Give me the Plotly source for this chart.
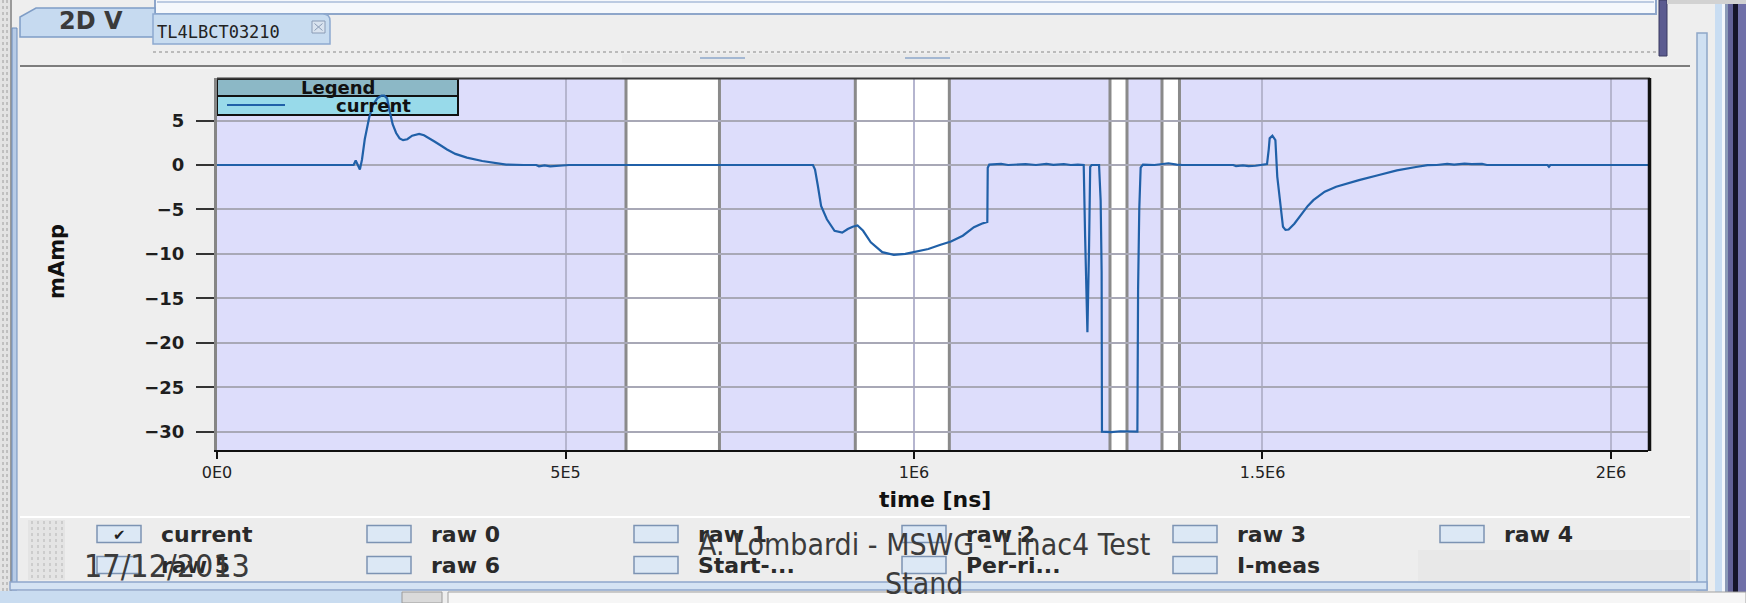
import plotly.graph_objects as go

# ---------------- measured beam current (time in ns, current in mA) ----------------
pulse1_t = [0, 1.96e5, 1.99e5, 2.02e5, 2.05e5, 2.08e5, 2.12e5, 2.185e5, 2.24e5, 2.30e5,
            2.36e5, 2.40e5, 2.44e5, 2.48e5, 2.52e5, 2.57e5, 2.62e5, 2.67e5, 2.73e5, 2.80e5,
            2.90e5, 2.97e5, 3.04e5, 3.12e5, 3.20e5, 3.30e5, 3.42e5, 3.585e5, 3.805e5, 4.02e5,
            4.15e5, 4.40e5, 4.58e5, 4.62e5, 4.70e5, 4.78e5, 4.86e5, 4.95e5, 5.05e5]
pulse1_i = [0, 0, 0.5, 0.0, -0.5, 0.6, 2.9, 5.4, 6.8, 7.5,
            7.8, 7.8, 7.5, 6.0, 4.6, 3.6, 3.0, 2.8, 2.9, 3.3,
            3.5, 3.35, 3.05, 2.65, 2.25, 1.75, 1.25, 0.83, 0.45, 0.19,
            0.05, 0.0, 0.0, -0.15, -0.05, -0.15, -0.1, -0.12, 0.0]

pulse2_t = [8.55e5, 8.58e5, 8.62e5, 8.667e5, 8.75e5, 8.86e5, 8.97e5, 9.05e5, 9.12e5, 9.19e5,
            9.27e5, 9.38e5, 9.545e5, 9.71e5, 9.875e5, 1.004e6, 1.0205e6, 1.037e6, 1.053e6, 1.07e6,
            1.086e6, 1.097e6, 1.1052e6, 1.1058e6, 1.108e6, 1.125e6, 1.135e6, 1.16e6, 1.175e6, 1.19e6,
            1.20e6, 1.215e6, 1.225e6, 1.235e6, 1.2435e6, 1.2455e6, 1.2488e6, 1.2512e6, 1.2528e6, 1.2548e6,
            1.2655e6, 1.2678e6, 1.2692e6, 1.2697e6, 1.283e6, 1.296e6, 1.309e6, 1.3205e6, 1.3215e6, 1.3232e6,
            1.3252e6, 1.3285e6, 1.345e6, 1.357e6, 1.365e6, 1.377e6, 1.385e6]
pulse2_i = [0, -0.5, -2.3, -4.6, -6.1, -7.4, -7.6, -7.2, -6.95, -6.8,
            -7.4, -8.7, -9.8, -10.1, -10.0, -9.76, -9.45, -9.0, -8.6, -7.95,
            -7.0, -6.6, -6.4, -0.3, 0.05, 0.12, 0.0, 0.1, 0.0, 0.12,
            0.02, 0.1, 0.0, 0.05, 0.0, -8.0, -18.8, -9.0, -0.2, 0.0,
            0.0, -4.0, -12.0, -30.0, -30.05, -29.95, -30.0, -30.0, -14.0, -5.0,
            -0.3, 0.05, 0.0, 0.15, 0.2, 0.05, 0.0]

pulse3_t = [1.458e6, 1.462e6, 1.472e6, 1.48e6, 1.49e6, 1.4985e6, 1.5065e6, 1.509e6, 1.5103e6, 1.5142e6,
            1.5185e6, 1.5212e6, 1.524e6, 1.5267e6, 1.5294e6, 1.533e6, 1.5375e6, 1.5457e6, 1.5566e6, 1.565e6,
            1.573e6, 1.581e6, 1.5893e6, 1.6057e6, 1.622e6, 1.6384e6, 1.6657e6, 1.6929e6, 1.7202e6, 1.7367e6,
            1.75e6, 1.765e6, 1.775e6, 1.79e6, 1.80e6, 1.815e6, 1.822e6, 1.909e6, 1.911e6, 1.913e6, 2.06e6]
pulse3_i = [0.0, -0.12, -0.05, -0.12, -0.08, 0.0, 0.1, 1.8, 3.0, 3.3,
            2.8, -1.3, -3.3, -5.1, -6.95, -7.3, -7.25, -6.6, -5.45, -4.6,
            -3.95, -3.45, -3.0, -2.45, -2.05, -1.7, -1.15, -0.6, -0.22, -0.02,
            0.0, 0.12, 0.05, 0.15, 0.1, 0.12, 0.0, 0.0, -0.2, 0.0, 0.0]

# time windows drawn without background shading
gap_start_ns = [5.868e5, 9.158e5, 1.2812e6, 1.3558e6]
gap_end_ns = [7.209e5, 1.0507e6, 1.3056e6, 1.3809e6]

x_tick_vals = [0, 5e5, 1e6, 1.5e6, 2e6]
x_tick_text = ["0E0", "5E5", "1E6", "1.5E6", "2E6"]
y_tick_vals = [5, 0, -5, -10, -15, -20, -25, -30]
y_tick_text = ["5", "0", "\u22125", "\u221210", "\u221215", "\u221220", "\u221225", "\u221230"]

channels_row1 = ["current", "raw 0", "raw 1", "raw 2", "raw 3", "raw 4"]
channels_row2 = ["raw 5", "raw 6", "Start-...", "Per-ri...", "I-meas"]

# one continuous acquisition record
time_ns = pulse1_t + pulse2_t + pulse3_t
current_mA = pulse1_i + pulse2_i + pulse3_i

# ---------------- page geometry (pixels) ----------------
W, H = 1746, 603
PL, PR, PT, PB = 217, 1648, 78, 450
X_RANGE = [0, 2.0531e6]
Y_RANGE = [-32.06, 9.79]


def px(x):
    return (x - PL) / (PR - PL)


def py(y):
    return (PB - y) / (PB - PT)


shapes = []
annots = []


def rect(x0, y0, x1, y1, fill, line=None, lw=1.0, layer="above"):
    shapes.append(dict(type="rect", xref="paper", yref="paper",
                       x0=px(x0), x1=px(x1), y0=py(y1), y1=py(y0),
                       fillcolor=fill, layer=layer,
                       line=dict(color=line if line else fill, width=lw if line else 0)))


def seg(x0, y0, x1, y1, color, w=1.0, dash="solid", layer="above"):
    shapes.append(dict(type="line", xref="paper", yref="paper",
                       x0=px(x0), x1=px(x1), y0=py(y0), y1=py(y1), layer=layer,
                       line=dict(color=color, width=w, dash=dash)))


def label(x, y, s, size, color="#222222", weight=400, family="DejaVu Sans",
          xanchor="center", angle=0):
    annots.append(dict(x=px(x), y=py(y), xref="paper", yref="paper", text=s,
                       showarrow=False, xanchor=xanchor, yanchor="middle",
                       textangle=angle,
                       font=dict(family=family, size=size, color=color, weight=weight)))


# ---------------- window chrome ----------------
# left edge
rect(0, 0, 10, 603, "#E3E3E3")
for xd in (3, 7):
    seg(xd, 0, xd, 603, "#9C9C9C", 1, "dot")
rect(10, 0, 12, 603, "#9A9A9A")
rect(12, 28, 17, 590, "#B7CBE6", "#6F8EBB", 1)

# frame of the window above
rect(155, -2, 1656, 14, "#F5F8FC", "#8EA6CA", 2)
seg(157, 2, 1654, 2, "#A9BDDA", 1.5)

# tabs
shapes.append(dict(type="path", xref="paper", yref="paper", layer="above",
                   path="M {},{} L {},{} L {},{} L {},{} L {},{} Z".format(
                       px(20), py(37), px(20), py(17), px(36), py(8), px(155), py(8), px(155), py(37)),
                   fillcolor="#C6DAF0", line=dict(color="#7F9DC6", width=1.5)))
label(57, 21, "2D V", 24, "#3A3A3A", 700, xanchor="left")
shapes.append(dict(type="path", xref="paper", yref="paper", layer="above",
                   path="M {},{} L {},{} L {},{} Q {},{} {},{} L {},{} Z".format(
                       px(153), py(44), px(153), py(14), px(323), py(14),
                       px(330), py(14), px(330), py(21), px(330), py(44)),
                   fillcolor="#C8DCF0", line=dict(color="#8DA9CF", width=1.5)))
label(155, 32, "TL4LBCT03210", 17, "#222222", 400, "DejaVu Sans Mono", xanchor="left")
rect(312, 21, 325, 33, "#D9E3EF", "#8A9BB5", 1)
seg(314.5, 23.5, 322.5, 30.5, "#8A9BB5", 1)
seg(314.5, 30.5, 322.5, 23.5, "#8A9BB5", 1)

# toolbar strip and separator
seg(153, 52, 1656, 52, "#ABABAB", 1.5, "dot")
rect(622, 54, 1090, 63, "#E9E9E9")
seg(700, 58, 745, 58, "#A3B7D2", 2)
seg(905, 58, 950, 58, "#A3B7D2", 2)
seg(20, 66, 1690, 66, "#7D7D7D", 2)
seg(20, 68, 1690, 68, "#FAFAFA", 1)

# right edge
rect(1659, 0, 1667, 56, "#5B5B90", "#3A3A60", 1)
rect(1667, 0, 1746, 4, "#D2D2D2")
rect(1697, 33, 1707, 590, "#CFE0F2", "#8FA7C8", 1.5)
rect(1715, 4, 1722, 603, "#C9DDF2")
rect(1722, 4, 1725, 603, "#F2F6FB")
rect(1725, 4, 1728, 603, "#8A9AB8")
rect(1728, 4, 1733, 603, "#626298")
rect(1733, 4, 1738, 603, "#15152A")
rect(1738, 4, 1746, 603, "#7070A8")

# channel selector panel
rect(20, 517, 1690, 581, "#EDEDED")
seg(20, 517, 1690, 517, "#FFFFFF", 2)
rect(1418, 550, 1690, 581, "#E8E8E8")
rect(28, 520, 65, 580, "#E4E4E4")
for xd in (32, 38, 44, 50, 56, 62):
    seg(xd, 521, xd, 579, "#B4B4B4", 1, "dot")

# bottom frame
rect(10, 582, 1707, 590, "#D5E3F3", "#8EA7CB", 1.5)
rect(0, 591, 402, 603, "#C9DCF0")
rect(402, 592, 442, 603, "#DADADA", "#9A9A9A", 1)
rect(448, 592, 1746, 605, "#F6F6F6", "#A0A0A0", 1)

# checkboxes with channel names
col_left = [97, 367, 634, 902, 1173, 1440]
row_mid = [534, 565]
for row, names in zip(row_mid, [channels_row1, channels_row2]):
    for xl, name in zip(col_left, names):
        rect(xl, row - 8.5, xl + 44, row + 8.5, "#DCE8F5", "#7C93B3", 1.5)
        label(xl + 62, row, name, 22, "#2A2A2A", 700, xanchor="left")
label(col_left[0] + 22, row_mid[0] + 1, "\u2714", 15, "#202020")

# ---------------- plot furniture ----------------
# legend box
rect(217, 79, 458, 96, "#8CB8C6", "#111111", 2, layer="between")
rect(217, 96, 458, 115, "#98DAEA", "#111111", 2, layer="between")
seg(227, 105, 285, 105, "#2060A8", 2, layer="between")
label(338, 87.5, "Legend", 18, "#111111", 700)
label(373, 105.5, "current", 18, "#111111", 700)

# unshaded time windows
for xs, xe in zip(gap_start_ns, gap_end_ns):
    shapes.append(dict(type="rect", xref="x", yref="paper", x0=xs, x1=xe, y0=0, y1=1,
                       fillcolor="#FFFFFF", line=dict(width=0), layer="below"))
    for xv in (xs, xe):
        shapes.append(dict(type="line", xref="x", yref="paper", x0=xv, x1=xv, y0=0, y1=1,
                           line=dict(color="#8A8A8A", width=3), layer="between"))

# frame around the plot area
seg(217, 78.5, 1650, 78.5, "#3A3A3A", 2)
seg(1649.5, 78, 1649.5, 451, "#111111", 3.5)

# axis titles
label(57, 262, "mAmp", 21, "#111111", 700, angle=-90)
label(935, 500, "time [ns]", 22, "#111111", 700)

# slide footer text
label(82, 566, "17/12/2013", 32, "#3B3B3B", 400,
      "DejaVu Sans Condensed, sans-serif", xanchor="left")
label(924, 564, "A. Lombardi - MSWG - Linac4 Test<br>Stand", 30, "#3B3B3B", 400,
      "DejaVu Sans Condensed, sans-serif")

# ---------------- figure ----------------
fig = go.Figure()
fig.add_trace(go.Scatter(x=time_ns, y=current_mA, mode="lines", name="current",
                         showlegend=False, line=dict(color="#2060A8", width=2.2),
                         hoverinfo="skip"))

fig.update_layout(
    width=W, height=H,
    margin=dict(l=PL, r=W - PR, t=PT, b=H - PB, pad=0),
    paper_bgcolor="#EEEEEE",
    plot_bgcolor="#DDDDFB",
    showlegend=False,
    shapes=shapes,
    annotations=annots,
    xaxis=dict(range=X_RANGE, tickvals=x_tick_vals, ticktext=x_tick_text,
               showgrid=True, gridcolor="#B5B5CF", gridwidth=2, zeroline=False,
               showline=True, linecolor="#111111", linewidth=2,
               ticks="outside", ticklen=7, tickwidth=2, tickcolor="#111111",
               tickfont=dict(family="DejaVu Sans", size=16, color="#222222")),
    yaxis=dict(range=Y_RANGE, tickvals=y_tick_vals, ticktext=y_tick_text,
               showgrid=True, gridcolor="#A8A8B6", gridwidth=1.5, zeroline=False,
               showline=True, linecolor="#858585", linewidth=3,
               ticks="outside", ticklen=18, tickwidth=1.5, tickcolor="#333333",
               ticklabelstandoff=8,
               tickfont=dict(family="DejaVu Sans", size=18, color="#1E1E1E", weight=700)),
)

fig.write_html("out.html")
